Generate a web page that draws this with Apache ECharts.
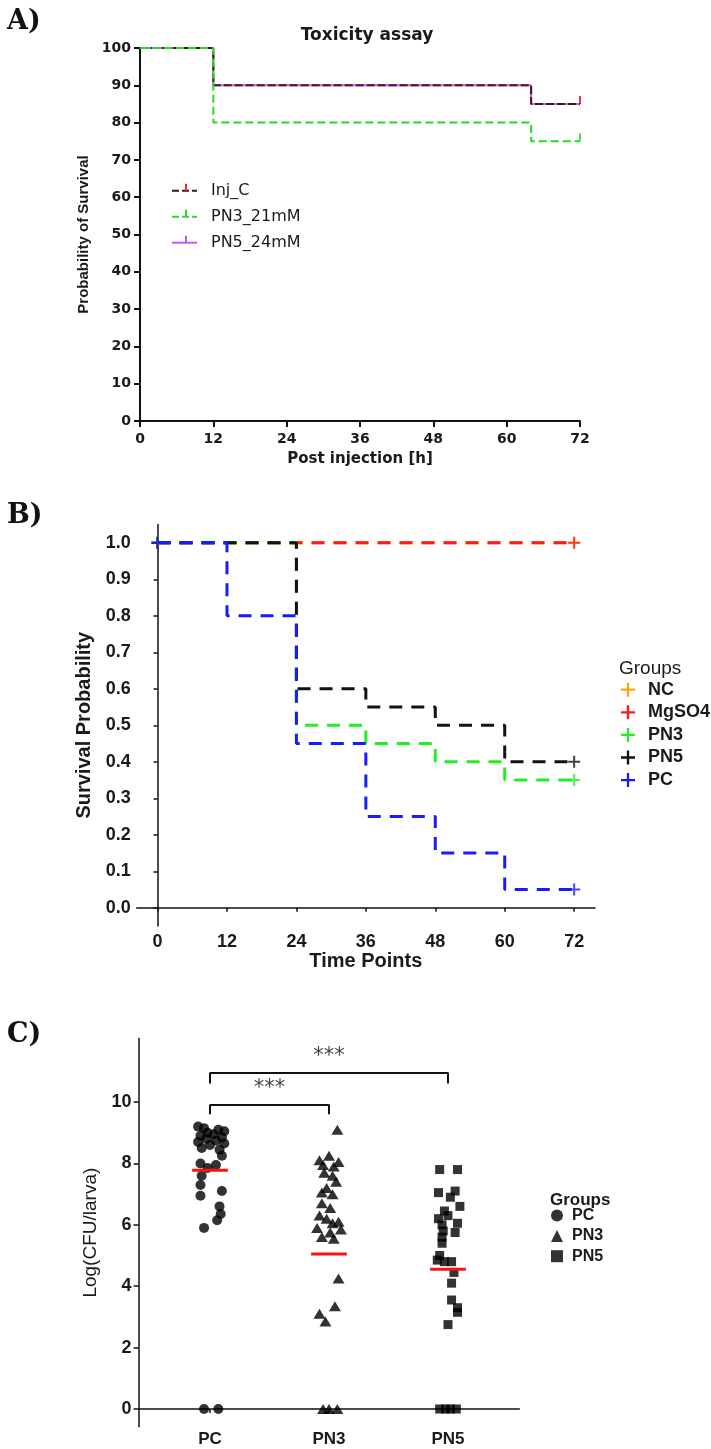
<!DOCTYPE html>
<html><head><meta charset="utf-8">
<script src="https://cdn.jsdelivr.net/npm/echarts@6/dist/echarts.min.js"></script>
<style>
html,body{margin:0;padding:0;background:#fff;}
.c{position:absolute;left:0;top:0;width:711px;height:1449px;}
</style></head><body>
<div id="pa" class="c"></div><div id="pb" class="c"></div><div id="pc" class="c"></div>
<script>
// ---------------- Panel A data ----------------
const aTitle = 'Toxicity assay';
const aNames = ['Inj_C', 'PN3_21mM', 'PN5_24mM'];
const aTimes = [0, 12, 64, 72];
const aInjC = [100, 90, 85, 85];
const aPN3 = [100, 80, 75, 75];
const aPN5 = [100, 90, 85, 85];
const aXTicks = [0, 12, 24, 36, 48, 60, 72];
const aYTicks = [0, 10, 20, 30, 40, 50, 60, 70, 80, 90, 100];

// ---------------- Panel B data ----------------
const bGroups = ['NC', 'MgSO4', 'PN3', 'PN5', 'PC'];
const bTimesNC = [0, 72];            const bNC = [1, 1];
const bTimesMg = [0, 72];            const bMg = [1, 1];
const bTimesPN3 = [0, 24, 36, 48, 60, 72]; const bPN3 = [1, 0.5, 0.45, 0.4, 0.35, 0.35];
const bTimesPN5 = [0, 24, 36, 48, 60, 72]; const bPN5 = [1, 0.6, 0.55, 0.5, 0.4, 0.4];
const bTimesPC = [0, 12, 24, 36, 48, 60, 72]; const bPC = [1, 0.8, 0.45, 0.25, 0.15, 0.05, 0.05];
const bXTicks = [0, 12, 24, 36, 48, 60, 72];
const bYTicks = [0, 0.1, 0.2, 0.3, 0.4, 0.5, 0.6, 0.7, 0.8, 0.9, 1.0];

// ---------------- Panel C data ----------------
const cCategories = ['PC', 'PN3', 'PN5'];
const cPC = [9.2, 9.15, 9.1, 9.05, 9.0, 8.95, 8.9, 8.85, 8.8, 8.75, 8.7, 8.65, 8.6, 8.5, 8.45, 8.25, 8.0, 7.95, 7.85, 7.6, 7.3, 7.1, 6.95, 6.6, 6.35, 6.15, 5.9, 0, 0];
const cPCJitter = [-0.10, -0.05, 0.07, 0.12, -0.02, 0.03, -0.08, 0.10, -0.03, 0.05, -0.10, 0.12, 0.0, -0.07, 0.08, 0.10, -0.08, 0.05, -0.02, -0.07, -0.08, 0.10, -0.08, 0.08, 0.09, 0.06, -0.05, -0.05, 0.07];
const cPN3 = [9.1, 8.25, 8.1, 8.05, 7.95, 7.9, 7.7, 7.6, 7.4, 7.2, 7.05, 7.0, 6.7, 6.55, 6.3, 6.2, 6.1, 6.05, 5.9, 5.85, 5.75, 5.6, 5.55, 4.25, 3.35, 3.1, 2.85, 0, 0, 0];
const cPN3Jitter = [0.07, 0.0, -0.08, 0.08, -0.05, 0.04, -0.04, 0.03, 0.06, -0.02, -0.06, 0.03, -0.06, 0.01, -0.08, -0.02, 0.08, 0.03, -0.10, 0.10, 0.01, -0.06, 0.04, 0.08, 0.05, -0.08, -0.03, -0.05, 0.0, 0.07];
const cPN5 = [7.8, 7.8, 7.1, 7.05, 6.9, 6.6, 6.45, 6.3, 6.2, 6.05, 6.0, 5.8, 5.75, 5.6, 5.4, 5.0, 4.85, 4.8, 4.8, 4.45, 4.1, 3.55, 3.3, 3.15, 2.75, 0, 0, 0, 0];
const cPN5Jitter = [-0.07, 0.08, 0.06, -0.08, 0.02, 0.10, -0.03, 0.0, -0.08, 0.08, -0.05, -0.04, 0.06, -0.05, -0.05, -0.07, -0.09, -0.03, 0.03, 0.05, 0.03, 0.03, 0.08, 0.08, 0.0, -0.07, -0.02, 0.02, 0.07];
const cMeans = [7.78, 5.05, 4.55];
const cBrackets = [ // [from category, to category, bracket level, tip level, label]
  [1, 3, 10.95, 10.6, '***'],
  [1, 2, 9.9, 9.6, '***']
];
const cYTicks = [0, 2, 4, 6, 8, 10];

// ---------------- helpers ----------------
const INK = '#1a1a1a';
const pair = (xs, ys) => xs.map((x, i) => [x, ys[i]]);
const plusIcon = 'path://M5,0h2v5h5v2h-5v5h-2v-5h-5v-2h5z';
const BOX = 'M0,0L0,0M25,16L25,16';
const dashIcon = 'path://' + BOX + 'M0,7h7v2h-7zM10,7h7v2h-7zM20,7h5v2h-5z';
const solidIcon = 'path://' + BOX + 'M0,7h25v2h-25z';
const tickIcon = 'path://' + BOX + 'M13,1h2v7h-2z';

// ================= Panel A =================
const aColors = {Inj_C: '#3b1a12', PN3_21mM: '#22dd22', PN5_24mM: '#cc55ee'};
const aTick = {Inj_C: '#ff2020', PN3_21mM: '#22dd22', PN5_24mM: '#cc55ee'};
const aSeriesData = {Inj_C: aInjC, PN3_21mM: aPN3, PN5_24mM: aPN5};
const aDraw = ['PN5_24mM', 'Inj_C', 'PN3_21mM'];
const aSeries = [];
aDraw.forEach(n => {
  aSeries.push({
    name: n, type: 'line', step: 'end', symbol: 'none', data: pair(aTimes, aSeriesData[n]),
    itemStyle: {color: aTick[n]},
    lineStyle: {color: aColors[n], width: 2, type: n === 'PN5_24mM' ? 'solid' : (n === 'Inj_C' ? [8, 3] : [8, 4])}
  });
});
aDraw.forEach(n => {
  const v = aSeriesData[n];
  aSeries.push({
    name: n + ' censor', type: 'scatter', symbol: 'rect', symbolSize: [2, 8], symbolOffset: [0, -4],
    itemStyle: {color: aTick[n]}, data: [[aTimes[aTimes.length - 1], v[v.length - 1]]]
  });
});
const aLegendBase = {orient: 'vertical', left: 167, top: 177.7, itemWidth: 25, itemHeight: 16, itemGap: 10};
const optA = {
  animation: false,
  title: [
    {text: 'A)', left: 2, top: 3, textStyle: {fontFamily: 'DejaVu Serif', fontWeight: 'bold', fontSize: 27, color: '#111'}},
    {text: aTitle, left: 362, textAlign: 'center', top: 22, textStyle: {fontFamily: 'DejaVu Sans', fontWeight: 'bold', fontSize: 17, color: INK}}
  ],
  legend: [
    Object.assign({}, aLegendBase, {
      data: aNames.map(n => ({name: n, icon: n === 'PN5_24mM' ? solidIcon : dashIcon, itemStyle: {color: aColors[n]}})),
      textStyle: {fontFamily: 'DejaVu Sans', fontSize: 16, color: INK, padding: [0, 0, 0, 9]}
    }),
    Object.assign({}, aLegendBase, {
      data: aNames.map(n => ({name: n, icon: tickIcon})),
      textStyle: {fontFamily: 'DejaVu Sans', fontSize: 16, color: 'rgba(0,0,0,0)', padding: [0, 0, 0, 9]}
    })
  ],
  grid: {left: 140, top: 48, width: 440, height: 373},
  xAxis: {
    type: 'value', min: 0, max: 72, interval: 12, splitLine: {show: false},
    axisLine: {lineStyle: {color: '#111', width: 2}},
    axisTick: {length: 6, lineStyle: {color: '#111', width: 2}},
    axisLabel: {fontFamily: 'DejaVu Sans', fontWeight: 'bold', fontSize: 14, color: INK, margin: 11},
    name: 'Post injection [h]', nameLocation: 'middle', nameGap: 31,
    nameTextStyle: {fontFamily: 'DejaVu Sans', fontWeight: 'bold', fontSize: 15, color: INK}
  },
  yAxis: {
    type: 'value', min: 0, max: 100, interval: 10, splitLine: {show: false},
    axisLine: {show: true, lineStyle: {color: '#111', width: 2}},
    axisTick: {show: true, length: 6, lineStyle: {color: '#111', width: 2}},
    axisLabel: {fontFamily: 'DejaVu Sans', fontWeight: 'bold', fontSize: 14, color: INK, margin: 9},
    name: 'Probability of Survival', nameLocation: 'middle', nameGap: 46,
    nameTextStyle: {fontFamily: 'Liberation Sans', fontWeight: 'bold', fontSize: 15, color: INK}
  },
  series: aSeries
};

// ================= Panel B =================
const bColors = {NC: '#ffa500', MgSO4: '#ff1a1a', PN3: '#22ee22', PN5: '#111111', PC: '#1a1aff'};
const bData = {
  NC: [bTimesNC, bNC], MgSO4: [bTimesMg, bMg], PN3: [bTimesPN3, bPN3], PN5: [bTimesPN5, bPN5], PC: [bTimesPC, bPC]
};
const bSeries = [];
bGroups.forEach(g => {
  bSeries.push({
    name: g, type: 'line', step: 'end', symbol: 'none', data: pair(bData[g][0], bData[g][1]),
    itemStyle: {color: bColors[g]}, lineStyle: {color: bColors[g], width: 3, type: [13, 9]}
  });
});
bGroups.forEach(g => {
  const t = bData[g][0], v = bData[g][1];
  bSeries.push({
    name: g, type: 'scatter', symbol: plusIcon, symbolSize: 12, itemStyle: {color: bColors[g]},
    data: [[t[0], v[0]], [t[t.length - 1], v[v.length - 1]]]
  });
});
const optB = {
  animation: false,
  title: [
    {text: 'B)', left: 2, top: 497, textStyle: {fontFamily: 'DejaVu Serif', fontWeight: 'bold', fontSize: 27, color: '#111'}},
    {text: 'Groups', left: 614, top: 654.5, textStyle: {fontFamily: 'Liberation Sans', fontWeight: 'normal', fontSize: 19, color: INK}}
  ],
  legend: {
    data: bGroups.map(g => ({name: g, icon: plusIcon})), orient: 'vertical', left: 616, top: 675.7,
    itemWidth: 14, itemHeight: 14, itemGap: 4.6,
    textStyle: {fontFamily: 'Liberation Sans', fontWeight: 'bold', fontSize: 18, lineHeight: 16, color: INK, padding: [0, 0, 0, 8]}
  },
  grid: {left: 136.7, top: 524.5, width: 458.3, height: 401.5},
  xAxis: {
    type: 'value', min: -3.6, max: 75.6, splitLine: {show: false},
    axisLine: {lineStyle: {color: '#111', width: 1.5}},
    axisTick: {customValues: bXTicks, length: 4, lineStyle: {color: '#111', width: 1.5}},
    axisLabel: {customValues: bXTicks, fontFamily: 'Liberation Sans', fontWeight: 'bold', fontSize: 18, color: INK, margin: 7},
    name: 'Time Points', nameLocation: 'middle', nameGap: 25,
    nameTextStyle: {fontFamily: 'Liberation Sans', fontWeight: 'bold', fontSize: 20, color: INK}
  },
  yAxis: {
    type: 'value', min: -0.05, max: 1.05, splitLine: {show: false},
    axisLine: {show: true, lineStyle: {color: '#111', width: 1.5}},
    axisTick: {show: true, customValues: bYTicks, length: 4, lineStyle: {color: '#111', width: 1.5}},
    axisLabel: {customValues: bYTicks, formatter: v => v.toFixed(1), fontFamily: 'Liberation Sans', fontWeight: 'bold', fontSize: 18, color: INK, margin: 6},
    name: 'Survival Probability', nameLocation: 'middle', nameGap: 38,
    nameTextStyle: {fontFamily: 'Liberation Sans', fontWeight: 'bold', fontSize: 20, color: INK}
  },
  series: bSeries
};

// ================= Panel C =================
const cSym = {PC: ['circle', 10], PN3: ['triangle', [12, 10]], PN5: ['rect', 9]};
const cVals = {PC: [cPC, cPCJitter], PN3: [cPN3, cPN3Jitter], PN5: [cPN5, cPN5Jitter]};
const cSeries = [];
cCategories.forEach((g, i) => {
  const [vals, jit] = cVals[g];
  cSeries.push({
    name: g, type: 'scatter', symbol: cSym[g][0], symbolSize: cSym[g][1], itemStyle: {color: '#000'},
    data: vals.map((v, k) => [i + 1 + jit[k], v]), z: 2
  });
});
cCategories.forEach((g, i) => {
  cSeries.push({
    name: 'mean ' + g, type: 'line', symbol: 'none', z: 3,
    lineStyle: {color: '#ff1010', width: 3}, data: [[i + 1 - 0.15, cMeans[i]], [i + 1 + 0.15, cMeans[i]]]
  });
});
cBrackets.forEach((b, i) => {
  cSeries.push({
    name: 'bracket' + i, type: 'line', symbol: 'none', lineStyle: {color: '#111', width: 2},
    data: [[b[0], b[3]], [b[0], b[2]], [b[1], b[2]], [b[1], b[3]]]
  });
  cSeries.push({
    name: 'sig' + i, type: 'scatter', symbolSize: 0, data: [[(b[0] + b[1]) / 2, b[2]]],
    label: {show: true, position: 'top', distance: 6, formatter: b[4], fontFamily: 'DejaVu Sans', fontSize: 21, color: '#111'}
  });
});
const optC = {
  animation: false,
  title: [
    {text: 'C)', left: 2, top: 1016, textStyle: {fontFamily: 'DejaVu Serif', fontWeight: 'bold', fontSize: 27, color: '#111'}},
    {text: 'Groups', left: 545, top: 1187, textStyle: {fontFamily: 'Liberation Sans', fontWeight: 'bold', fontSize: 17, color: INK}}
  ],
  legend: {
    data: cCategories, orient: 'vertical', left: 546, top: 1202.6, itemWidth: 12, itemHeight: 12, itemGap: 4.3,
    textStyle: {fontFamily: 'Liberation Sans', fontWeight: 'bold', fontSize: 16, lineHeight: 16, color: INK, padding: [0, 0, 0, 4]}
  },
  grid: {left: 138.6, top: 1038.5, width: 380.8, height: 388.3},
  xAxis: {
    type: 'value', min: 0.4, max: 3.6, splitLine: {show: false},
    axisLine: {lineStyle: {color: '#111', width: 1.5}},
    axisTick: {customValues: [1, 2, 3], length: 4, lineStyle: {color: '#111', width: 1.5}},
    axisLabel: {customValues: [1, 2, 3], formatter: v => cCategories[Math.round(v) - 1], fontFamily: 'Liberation Sans', fontWeight: 'bold', fontSize: 17, color: INK, margin: 4}
  },
  yAxis: {
    type: 'value', min: -0.58, max: 12.07, splitLine: {show: false},
    axisLine: {show: true, lineStyle: {color: '#111', width: 1.5}},
    axisTick: {show: true, customValues: cYTicks, length: 5, lineStyle: {color: '#111', width: 1.5}},
    axisLabel: {customValues: cYTicks, fontFamily: 'Liberation Sans', fontWeight: 'bold', fontSize: 18, color: INK, margin: 7},
    name: 'Log(CFU/larva)', nameLocation: 'middle', nameGap: 29,
    nameTextStyle: {fontFamily: 'Liberation Sans', fontWeight: 'normal', fontSize: 19, color: INK}
  },
  series: cSeries
};

echarts.init(document.getElementById('pa')).setOption(optA);
echarts.init(document.getElementById('pb')).setOption(optB);
echarts.init(document.getElementById('pc')).setOption(optC);
</script>
</body></html>
